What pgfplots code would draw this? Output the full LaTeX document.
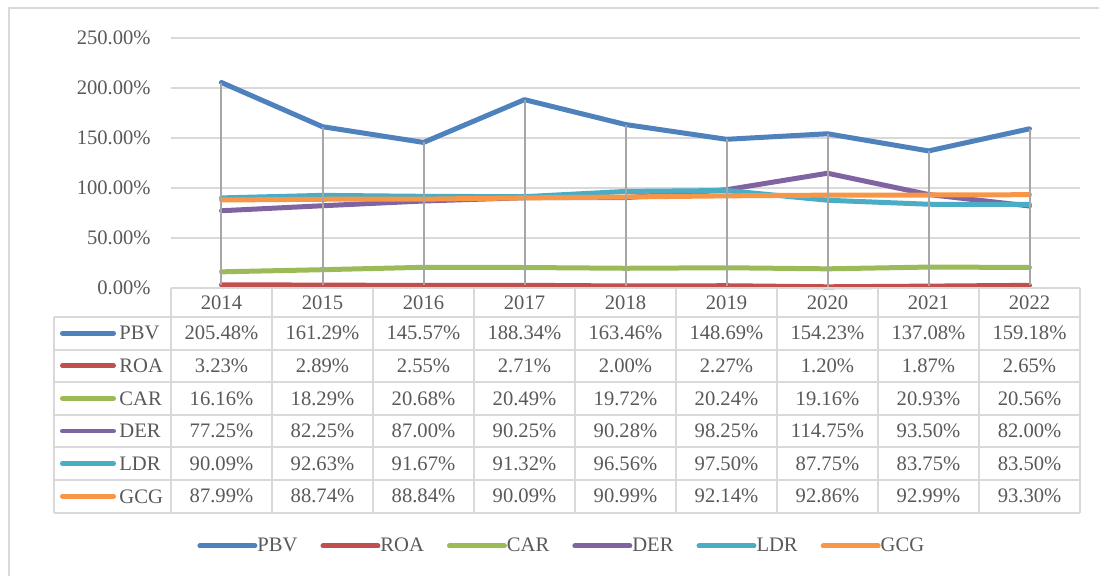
\documentclass[border=0pt]{standalone}
\usepackage{pgfplots}
\pgfplotsset{compat=1.18}
\usepackage{fontspec}
\setmainfont{Liberation Serif}
\definecolor{pbv}{HTML}{4F81BD}
\definecolor{roa}{HTML}{C0504D}
\definecolor{car}{HTML}{9BBB59}
\definecolor{der}{HTML}{8064A2}
\definecolor{ldr}{HTML}{4BACC6}
\definecolor{gcg}{HTML}{F79646}
\definecolor{txt}{HTML}{595959}
\definecolor{gridc}{HTML}{D9D9D9}
\definecolor{hl}{HTML}{A6A6A6}
\newcommand{\cf}{\fontsize{10.3}{12}\selectfont}
\newcommand\trow[4]{%
  \pgfmathsetmacro\yc{333.3+32.6*#1}
  \draw[#3, line width=2.4pt, line cap=round] (62.4,\yc) -- (113.6,\yc);
  \node[anchor=west, inner sep=0pt] at (119,\yc) {#2};
  \foreach [count=\i from 0] \v in {#4} \node[inner sep=0pt] at ({221.5+101*\i},\yc) {\v\%};
}
\begin{document}
\begin{tikzpicture}[font=\cf, text=txt]
\begin{axis}[
  x=50.5pt, y=0.5pt,
  xmin=-0.5, xmax=8.5, ymin=0, ymax=250,
  clip=false,
  axis line style={draw=none},
  xtick=\empty,
  ytick={0,50,100,150,200,250},
  yticklabels={0.00\%,50.00\%,100.00\%,150.00\%,200.00\%,250.00\%},
  ymajorgrids, major grid style={gridc, line width=1pt},
  major tick length=0pt,
  yticklabel style={font=\cf, text=txt, inner sep=0pt, xshift=-10pt},
  legend columns=6,
  legend style={at={(axis cs:-0.2426,-258)}, anchor=west, draw=none, fill=none,
    inner sep=0pt, font=\cf, text=txt, nodes={inner sep=0pt},
    column sep=0pt, /tikz/every even column/.append style={column sep=11.5pt}},
  legend image code/.code={\path (0pt,0pt) -- (27.5pt,0pt);
    \draw[#1, line width=2.4pt, line cap=round] (1.2pt,0pt) -- (26.3pt,0pt);},
  every axis plot/.append style={line width=2.5pt, line cap=round, line join=round},
]
\addplot[pbv] coordinates {(0,205.48)(1,161.29)(2,145.57)(3,188.34)(4,163.46)(5,148.69)(6,154.23)(7,137.08)(8,159.18)};
\addlegendentry{PBV}
\addplot[roa] coordinates {(0,3.23)(1,2.89)(2,2.55)(3,2.71)(4,2.00)(5,2.27)(6,1.20)(7,1.87)(8,2.65)};
\addlegendentry{ROA}
\addplot[car] coordinates {(0,16.16)(1,18.29)(2,20.68)(3,20.49)(4,19.72)(5,20.24)(6,19.16)(7,20.93)(8,20.56)};
\addlegendentry{CAR}
\addplot[der] coordinates {(0,77.25)(1,82.25)(2,87.00)(3,90.25)(4,90.28)(5,98.25)(6,114.75)(7,93.50)(8,82.00)};
\addlegendentry{DER}
\addplot[ldr] coordinates {(0,90.09)(1,92.63)(2,91.67)(3,91.32)(4,96.56)(5,97.50)(6,87.75)(7,83.75)(8,83.50)};
\addlegendentry{LDR}
\addplot[gcg] coordinates {(0,87.99)(1,88.74)(2,88.84)(3,90.09)(4,90.99)(5,92.14)(6,92.86)(7,92.99)(8,93.30)};
\addlegendentry{GCG}
% high-low lines
\addplot[hl, line width=1pt, line cap=butt, forget plot] coordinates {(0,205.48)(0,3.23)};
\addplot[hl, line width=1pt, line cap=butt, forget plot] coordinates {(1,161.29)(1,2.89)};
\addplot[hl, line width=1pt, line cap=butt, forget plot] coordinates {(2,145.57)(2,2.55)};
\addplot[hl, line width=1pt, line cap=butt, forget plot] coordinates {(3,188.34)(3,2.71)};
\addplot[hl, line width=1pt, line cap=butt, forget plot] coordinates {(4,163.46)(4,2.00)};
\addplot[hl, line width=1pt, line cap=butt, forget plot] coordinates {(5,148.69)(5,2.27)};
\addplot[hl, line width=1pt, line cap=butt, forget plot] coordinates {(6,154.23)(6,1.20)};
\addplot[hl, line width=1pt, line cap=butt, forget plot] coordinates {(7,137.08)(7,1.87)};
\addplot[hl, line width=1pt, line cap=butt, forget plot] coordinates {(8,159.18)(8,2.65)};
\coordinate (O) at (axis cs:-0.5,0);
\end{axis}
\begin{scope}[shift={(O)}, xshift=-85.5pt, yshift=144pt, x=0.5pt, y=-0.5pt]
  % table grid
  \draw[gridc, line width=1pt] (171,288) -- (1080,288);
  \foreach \y in {317,349.6,382.2,414.8,447.4,480,512.6}
    \draw[gridc, line width=1pt] (54,\y) -- (1080,\y);
  \draw[gridc, line width=1pt] (54,317) -- (54,512.6);
  \foreach \i in {0,...,9}
    \draw[gridc, line width=1pt] ({171+101*\i},288) -- ({171+101*\i},512.6);
  \foreach [count=\i from 0] \yr in {2014,2015,2016,2017,2018,2019,2020,2021,2022}
    \node[inner sep=0pt] at ({221.5+101*\i},303) {\yr};
  \trow{0}{PBV}{pbv}{205.48,161.29,145.57,188.34,163.46,148.69,154.23,137.08,159.18}
  \trow{1}{ROA}{roa}{3.23,2.89,2.55,2.71,2.00,2.27,1.20,1.87,2.65}
  \trow{2}{CAR}{car}{16.16,18.29,20.68,20.49,19.72,20.24,19.16,20.93,20.56}
  \trow{3}{DER}{der}{77.25,82.25,87.00,90.25,90.28,98.25,114.75,93.50,82.00}
  \trow{4}{LDR}{ldr}{90.09,92.63,91.67,91.32,96.56,97.50,87.75,83.75,83.50}
  \trow{5}{GCG}{gcg}{87.99,88.74,88.84,90.09,90.99,92.14,92.86,92.99,93.30}
  % chart border
  \draw[gridc, line width=1pt] (9,600) -- (9,8) -- (1120,8);
  \pgfresetboundingbox
  \path (0,0) rectangle (1099,576);
\end{scope}
\end{tikzpicture}
\end{document}
